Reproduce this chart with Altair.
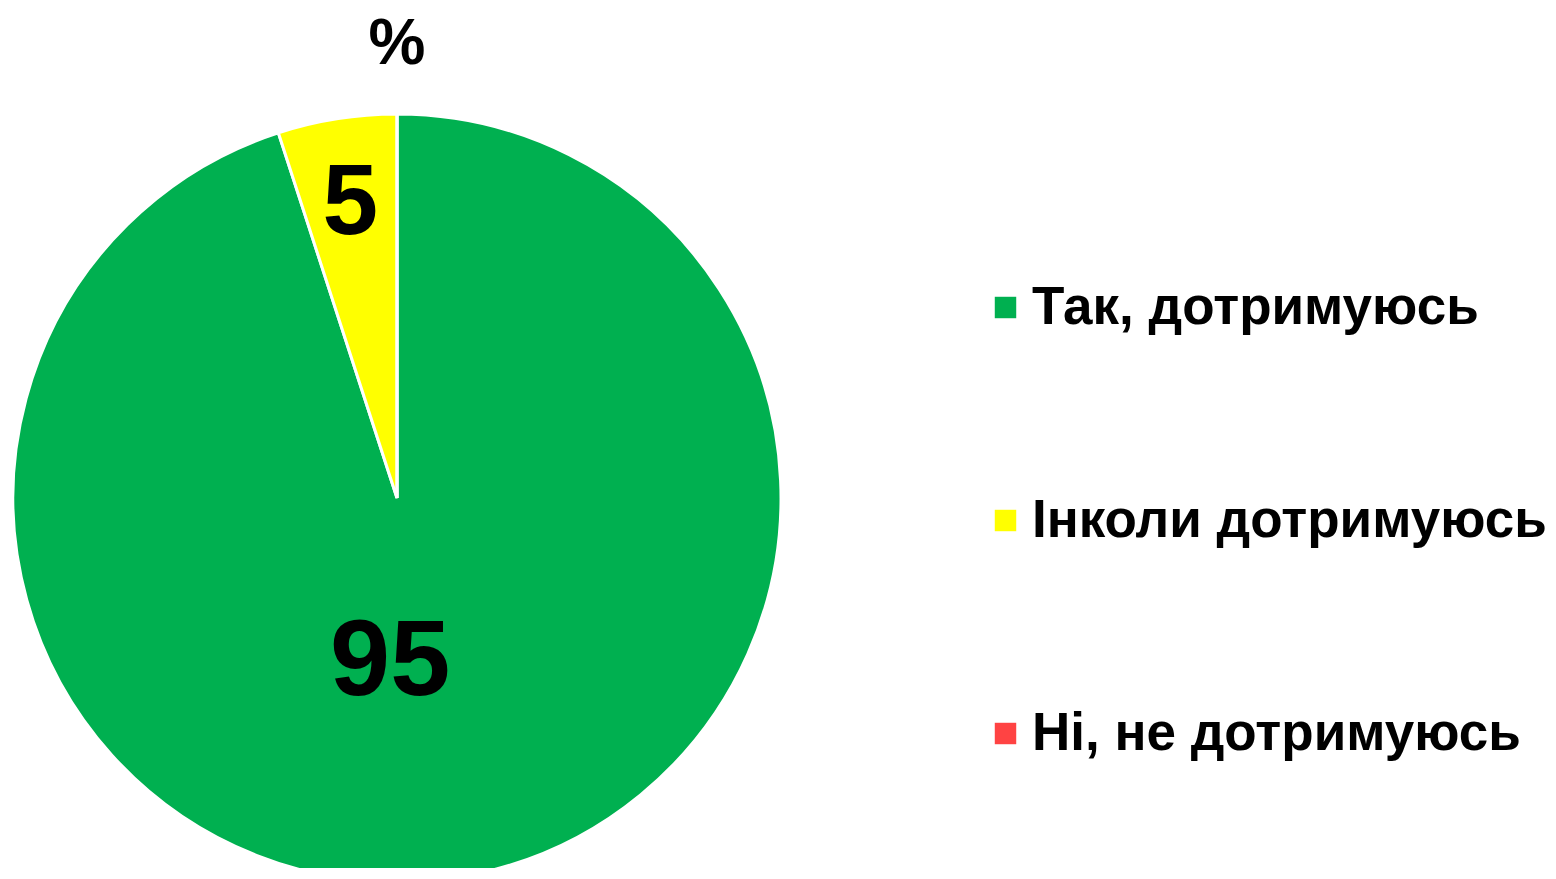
import altair as alt
import pandas as pd

categories = ["Так, дотримуюсь", "Інколи дотримуюсь", "Ні, не дотримуюсь"]
values = [95, 5, 0]
colors = ["#00B050", "#FFFF00", "#FF4343"]
order = [0, 1, 2]

df = pd.DataFrame({"category": categories, "value": values, "order": order})

FONT = "Liberation Sans"
CX, CY, R = 389, 490, 384

color_scale = alt.Scale(domain=categories, range=colors)

pie = alt.Chart(df).mark_arc(stroke="white", strokeWidth=3).encode(
    theta=alt.Theta("value:Q", stack=True),
    order=alt.Order("order:Q"),
    x=alt.value(CX),
    y=alt.value(CY),
    radius=alt.value(R),
    color=alt.Color(
        "category:N",
        scale=color_scale,
        sort=categories,
        legend=alt.Legend(
            title=None,
            orient="none",
            legendX=971,
            legendY=273,
            symbolType="square",
            symbolSize=460,
            symbolStrokeWidth=0,
            labelFont=FONT,
            labelFontSize=53,
            labelFontWeight="bold",
            labelColor="black",
            labelOffset=0,
            labelLimit=800,
            rowPadding=159,
        ),
    ),
)

labels = (
    alt.Chart(df)
    .transform_joinaggregate(total="sum(value)")
    .transform_window(cum="sum(value)", sort=[alt.SortField("order")], frame=[None, 0])
    .transform_calculate(
        ang="2*PI*(datum.cum - datum.value/2)/datum.total",
        lr="datum.value > 50 ? 167 : 298",
        adj="datum.value > 50 ? -33 : 0",
        fs="datum.value > 50 ? 108 : 100",
    )
    .transform_calculate(
        px=f"{CX} + datum.lr*sin(datum.ang) + datum.adj",
        py=f"{CY} - datum.lr*cos(datum.ang)",
    )
    .transform_filter("datum.value > 0")
    .mark_text(font=FONT, fontWeight="bold", color="black", align="center", baseline="middle")
    .encode(
        x=alt.X("px:Q", scale=None),
        y=alt.Y("py:Q", scale=None),
        size=alt.Size("fs:Q", scale=None, legend=None),
        text=alt.Text("value:Q"),
    )
)

title = alt.Chart(pd.DataFrame({"t": ["%"]})).mark_text(
    font=FONT, fontWeight="bold", fontSize=64, color="black", align="center", baseline="middle"
).encode(x=alt.value(CX), y=alt.value(37), text="t:N")

chart = (
    alt.layer(pie, labels, title)
    .properties(width=1540, height=860, autosize=alt.AutoSizeParams(type="none"), padding=0)
    .configure_view(stroke=None)
)

chart.save("out.html", embed_options={"renderer": "svg", "actions": False})
